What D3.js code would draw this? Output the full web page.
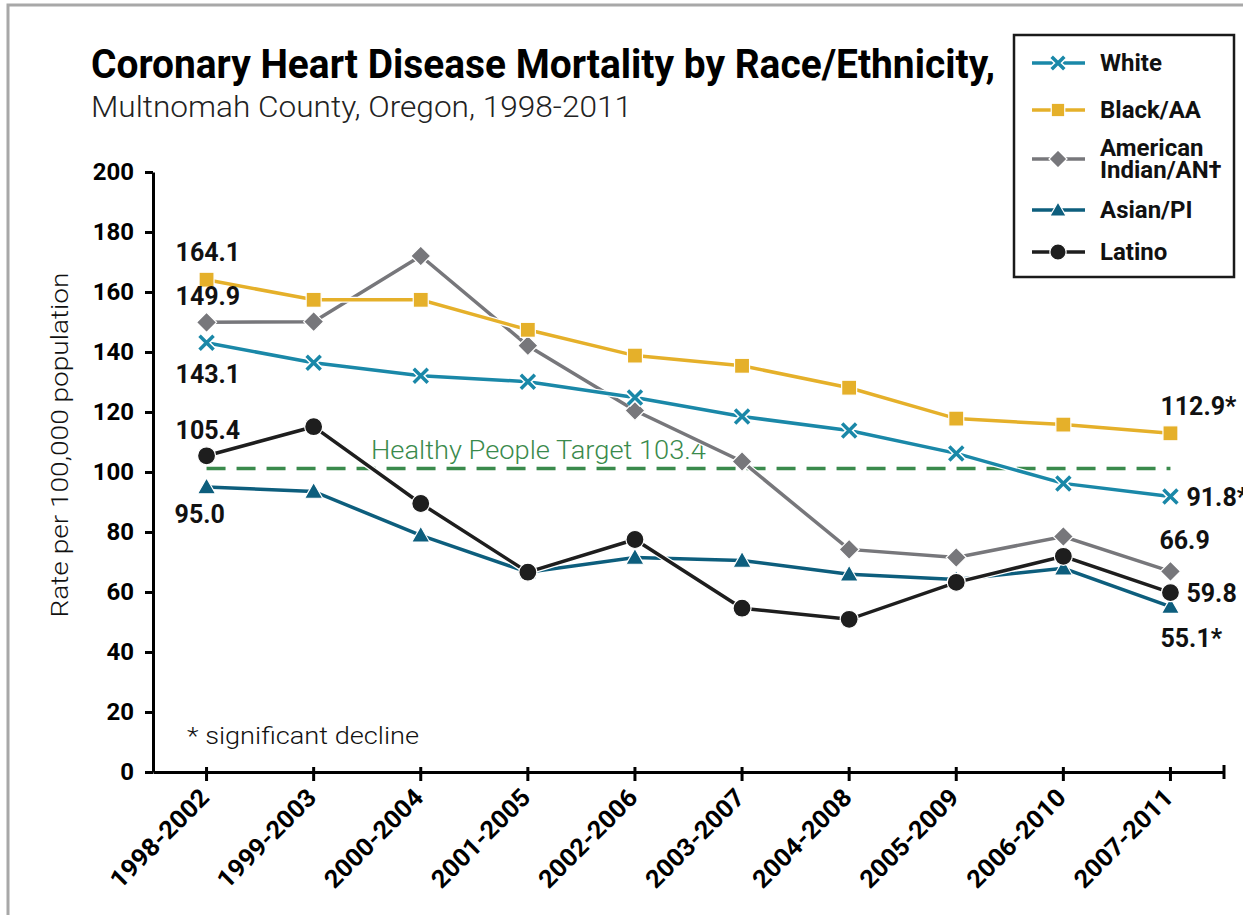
<!DOCTYPE html>
<html>
<head>
<meta charset="utf-8">
<script src="https://cdn.jsdelivr.net/npm/d3@7"></script>
<style>
  body { margin: 0; background: #fff; }
  text { font-family: Roboto, 'Liberation Sans', sans-serif; }
</style>
</head>
<body>
<script>
// Data
const periods = ['1998-2002', '1999-2003', '2000-2004', '2001-2005', '2002-2006',
  '2003-2007', '2004-2008', '2005-2009', '2006-2010', '2007-2011']
const white = [143.1, 136.4, 132.1, 130.1, 124.8, 118.5, 113.8, 106.2, 96.2, 91.8]
const blackAA = [164.1, 157.4, 157.4, 147.4, 138.8, 135.4, 128.1, 117.8, 115.8, 112.9]
const amIndian = [149.9, 150.1, 172.0, 142.1, 120.5, 103.5, 74.2, 71.5, 78.5, 66.9]
const asianPI = [95.0, 93.5, 78.9, 66.6, 71.5, 70.5, 65.9, 64.2, 67.9, 55.1]
const latino = [105.4, 115.1, 89.5, 66.6, 77.5, 54.6, 50.9, 63.2, 71.9, 59.8]
const yTicks = [0, 20, 40, 60, 80, 100, 120, 140, 160, 180, 200]
const targetLevel = 101.2
const targetLabel = 'Healthy People Target 103.4'

const series = [
  { name: 'White', values: white, color: '#1a88a8', marker: 'x', first: '143.1', last: '91.8*' },
  { name: 'Black/AA', values: blackAA, color: '#e5b02a', marker: 'square', first: '164.1', last: '112.9*' },
  { name: 'American\nIndian/AN†', values: amIndian, color: '#77777b', marker: 'diamond', first: '149.9', last: '66.9' },
  { name: 'Asian/PI', values: asianPI, color: '#0d5e7d', marker: 'triangle', first: '95.0', last: '55.1*' },
  { name: 'Latino', values: latino, color: '#1e1e1e', marker: 'circle', first: '105.4', last: '59.8' },
]

const W = 1243, H = 915
const svg = d3.select('body').append('svg').attr('width', W).attr('height', H)

svg.append('rect').attr('width', W).attr('height', H).attr('fill', '#fff')

// gray frame (top and left edges visible)
svg.append('path').attr('d', `M8,${H} V5 H${W}`)
  .attr('fill', 'none').attr('stroke', '#a8a8a8').attr('stroke-width', 3)

// Title
svg.append('text').attr('x', 91).attr('y', 78)
  .attr('textLength', 904).attr('lengthAdjust', 'spacingAndGlyphs')
  .style('font-size', '41px').style('font-weight', 700).style('fill', '#000')
  .text('Coronary Heart Disease Mortality by Race/Ethnicity,')
svg.append('text').attr('x', 91).attr('y', 117)
  .attr('textLength', 541).attr('lengthAdjust', 'spacingAndGlyphs')
  .style('font-size', '29px').style('font-weight', 300).style('fill', '#222')
  .text('Multnomah County, Oregon, 1998-2011')

// Scales
const x = d3.scaleBand().domain(periods).range([153, 1224])
const cx = d => x(d) + x.bandwidth() / 2
const y = d3.scaleLinear().domain([0, 200]).range([772, 172])

// Axes
const yAxis = svg.append('g').attr('transform', 'translate(153,0)')
  .call(d3.axisLeft(y).tickValues(yTicks).tickSize(8).tickSizeOuter(0).tickPadding(11))
yAxis.select('.domain').attr('stroke', '#000').attr('stroke-width', 3)
yAxis.selectAll('.tick line').attr('stroke', '#000').attr('stroke-width', 3)
yAxis.selectAll('.tick text').style('font-size', '24px').style('font-weight', 700)
  .style('font-family', 'Roboto, sans-serif').attr('fill', '#000')

const xAxis = svg.append('g').attr('transform', 'translate(0,772)')
  .call(d3.axisBottom(x).tickSize(9).tickSizeOuter(0).tickPadding(0))
xAxis.select('.domain').attr('stroke', '#000').attr('stroke-width', 3)
xAxis.selectAll('.tick line').attr('stroke', '#000').attr('stroke-width', 3).attr('y1', -5)
xAxis.selectAll('.tick text')
  .attr('textLength', 128).attr('lengthAdjust', 'spacingAndGlyphs')
  .style('font-size', '25px').style('font-weight', 700)
  .style('font-family', 'Roboto, sans-serif').attr('fill', '#000')
  .attr('text-anchor', 'end').attr('y', 0).attr('dy', '0.35em')
  .attr('transform', 'translate(-2,21) rotate(-45)')
// right end tick
xAxis.append('line').attr('x1', 1224).attr('x2', 1224).attr('y1', -7).attr('y2', 7)
  .attr('stroke', '#000').attr('stroke-width', 3)

// Y-axis title
svg.append('text').attr('transform', 'translate(68,445) rotate(-90)')
  .attr('text-anchor', 'middle').attr('textLength', 345).attr('lengthAdjust', 'spacingAndGlyphs')
  .style('font-size', '23px').style('font-weight', 300).style('fill', '#111')
  .text('Rate per 100,000 population')

// Target line
svg.append('line')
  .attr('x1', cx(periods[0])).attr('x2', cx(periods[periods.length - 1]))
  .attr('y1', y(targetLevel)).attr('y2', y(targetLevel))
  .attr('stroke', '#3a8a4c').attr('stroke-width', 3.5).attr('stroke-dasharray', '19,11')
svg.append('text').attr('x', 371).attr('y', y(targetLevel) - 9)
  .attr('textLength', 335).attr('lengthAdjust', 'spacingAndGlyphs')
  .style('font-size', '25px').style('font-weight', 300).style('fill', '#3a8a4c')
  .text(targetLabel)

// Marker drawing
function drawMarker(g, type, color, px, py, s) {
  s = s || 1
  if (type === 'x') {
    const r = 7 * s
    const p = `M${px - r},${py - r}L${px + r},${py + r}M${px - r},${py + r}L${px + r},${py - r}`
    g.append('path').attr('d', p).attr('stroke', '#fff').attr('stroke-width', 6.5)
    g.append('path').attr('d', p).attr('stroke', color).attr('stroke-width', 3.5)
  } else if (type === 'square') {
    const r = 7.5 * s
    g.append('rect').attr('x', px - r).attr('y', py - r).attr('width', 2 * r).attr('height', 2 * r)
      .attr('fill', color).attr('stroke', '#fff').attr('stroke-width', 1.2)
  } else if (type === 'diamond') {
    const r = 10 * s
    g.append('path').attr('d', `M${px},${py - r}L${px + r},${py}L${px},${py + r}L${px - r},${py}Z`)
      .attr('fill', color).attr('stroke', '#fff').attr('stroke-width', 1.2)
  } else if (type === 'triangle') {
    const r = 9 * s
    g.append('path').attr('d', `M${px},${py - r}L${px + r},${py + r * 0.75}L${px - r},${py + r * 0.75}Z`)
      .attr('fill', color).attr('stroke', '#fff').attr('stroke-width', 1.2)
  } else {
    g.append('circle').attr('cx', px).attr('cy', py).attr('r', 9 * s)
      .attr('fill', color).attr('stroke', '#fff').attr('stroke-width', 1.2)
  }
}

// Lines and markers, drawn back to front
const line = d3.line().x((d, i) => cx(periods[i])).y(d => y(d))
const order = [3, 4, 2, 0, 1]
order.forEach(k => {
  const s = series[k]
  const g = svg.append('g')
  g.append('path').datum(s.values).attr('d', line)
    .attr('fill', 'none').attr('stroke', '#fff').attr('stroke-width', 6)
  g.append('path').datum(s.values).attr('d', line)
    .attr('fill', 'none').attr('stroke', s.color).attr('stroke-width', 3.5)
  s.values.forEach((v, i) => drawMarker(g, s.marker, s.color, cx(periods[i]), y(v)))
})

// Value labels
const labelStyle = sel => sel.style('font-size', '25px').style('font-weight', 700).style('fill', '#111')
const firstLabels = [
  { k: 1, dx: -31, dy: -19 },
  { k: 2, dx: -31, dy: -17 },
  { k: 0, dx: -31, dy: 40 },
  { k: 4, dx: -31, dy: -17 },
  { k: 3, dx: -32, dy: 36 },
]
firstLabels.forEach(l => {
  const s = series[l.k]
  svg.append('text').attr('x', cx(periods[0]) + l.dx).attr('y', y(s.values[0]) + l.dy)
    .call(labelStyle).text(s.first)
})
const li = periods.length - 1
const lastLabels = [
  { k: 1, dx: -10, dy: -18 },
  { k: 0, dx: 16, dy: 9 },
  { k: 2, dx: -11, dy: -22 },
  { k: 4, dx: 16, dy: 9 },
  { k: 3, dx: -10, dy: 40 },
]
lastLabels.forEach(l => {
  const s = series[l.k]
  svg.append('text').attr('x', cx(periods[li]) + l.dx).attr('y', y(s.values[li]) + l.dy)
    .call(labelStyle).text(s.last)
})

// Footnote
svg.append('text').attr('x', 187).attr('y', 744)
  .attr('textLength', 232).attr('lengthAdjust', 'spacingAndGlyphs')
  .style('font-size', '24px').style('font-weight', 300).style('fill', '#111')
  .text('* significant decline')

// Legend
const legend = svg.append('g').attr('transform', 'translate(1014,35)')
legend.append('rect').attr('width', 220).attr('height', 242)
  .attr('fill', '#fff').attr('stroke', '#1a1a1a').attr('stroke-width', 2.5)
const legendY = [28, 75, 124, 175, 217]
series.forEach((s, i) => {
  const g = legend.append('g').attr('transform', `translate(0,${legendY[i]})`)
  g.append('line').attr('x1', 18).attr('x2', 71).attr('y1', 0).attr('y2', 0)
    .attr('stroke', s.color).attr('stroke-width', 3.5)
  drawMarker(g, s.marker, s.color, 44, 0, 0.9)
  const lines = s.name.split('\n')
  const t = g.append('text').attr('x', 86)
    .style('font-size', '24px').style('font-weight', 700).style('fill', '#111')
  lines.forEach((ln, j) => {
    t.append('tspan').attr('x', 86)
      .attr('y', lines.length === 1 ? 8 : (j === 0 ? -3 : 19))
      .text(ln)
  })
})
</script>
</body>
</html>
